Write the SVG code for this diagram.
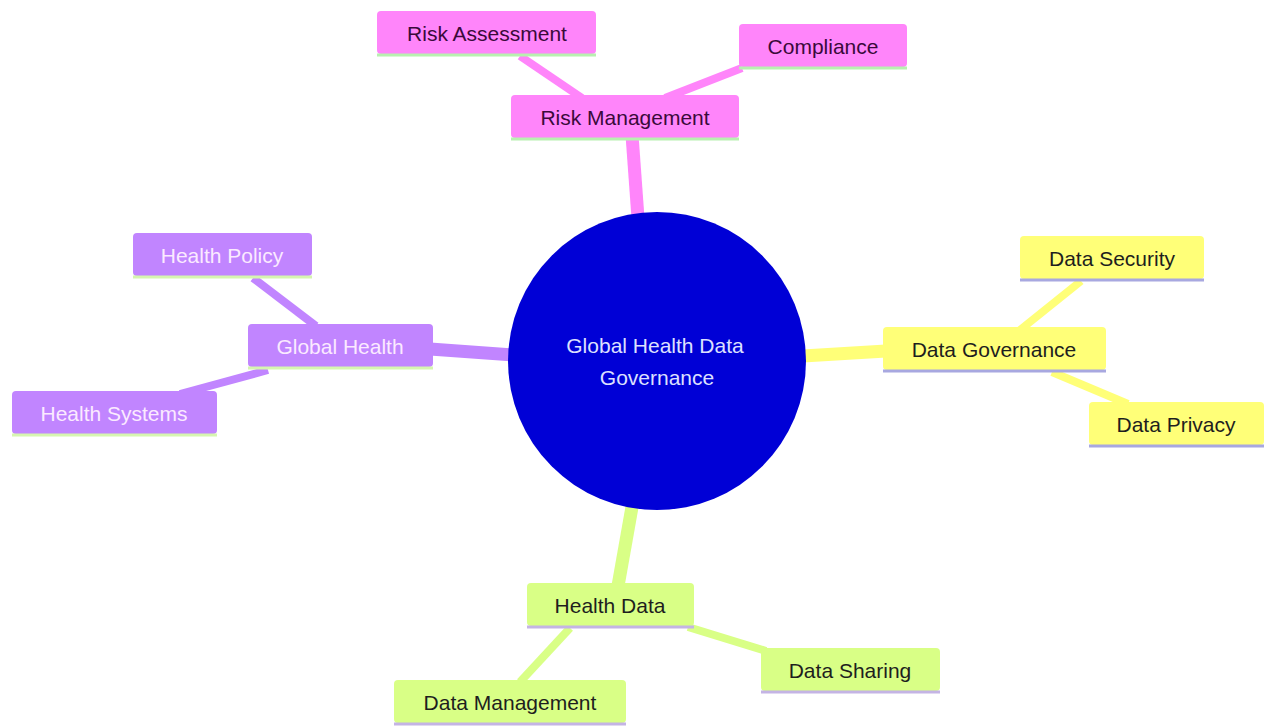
<svg xmlns="http://www.w3.org/2000/svg" width="1264" height="726" viewBox="0 0 1264 726">
<style>
text{font-family:"Liberation Sans",Arial,sans-serif;font-size:21px;text-anchor:middle;dominant-baseline:central}
.pk rect.b{fill:#ff85fa}.pk line.u{stroke:#b8f0b0}.pk text{fill:#3a0a3a}
.pu rect.b{fill:#c185ff}.pu line.u{stroke:#d6f5b0}.pu text{fill:#fbeaff}
.ye rect.b{fill:#ffff78}.ye line.u{stroke:#a8a8e0}.ye text{fill:#1e1e1e}
.gr rect.b{fill:#d9ff86}.gr line.u{stroke:#c4b4e4}.gr text{fill:#1e1e1e}
line.u{stroke-width:3}
#edges line{stroke-linecap:butt}
</style>
<rect width="1264" height="726" fill="#ffffff"/>
<g id="edges">
<line x1="632" y1="135" x2="638" y2="218" stroke="#ff85fa" stroke-width="13"/>
<line x1="520" y1="56" x2="582" y2="98" stroke="#ff85fa" stroke-width="8"/>
<line x1="742" y1="68" x2="665" y2="98" stroke="#ff85fa" stroke-width="8"/>
<line x1="430" y1="349" x2="512" y2="355" stroke="#c185ff" stroke-width="13"/>
<line x1="253" y1="278" x2="316" y2="326" stroke="#c185ff" stroke-width="8"/>
<line x1="268" y1="370" x2="180" y2="394" stroke="#c185ff" stroke-width="8"/>
<line x1="803" y1="356" x2="886" y2="351" stroke="#ffff78" stroke-width="13"/>
<line x1="1081" y1="281" x2="1020" y2="330" stroke="#ffff78" stroke-width="8"/>
<line x1="1052" y1="372" x2="1128" y2="404" stroke="#ffff78" stroke-width="8"/>
<line x1="632" y1="507" x2="618" y2="586" stroke="#d9ff86" stroke-width="13"/>
<line x1="570" y1="628" x2="520" y2="682" stroke="#d9ff86" stroke-width="8"/>
<line x1="688" y1="627" x2="766" y2="651" stroke="#d9ff86" stroke-width="8"/>
</g>
<g id="root">
<circle cx="657" cy="361" r="149" fill="#0000d6"/>
<text x="655" y="345" fill="#dde0ff">Global Health Data</text>
<text x="657" y="377" fill="#dde0ff">Governance</text>
</g>
<g id="riskManagement" class="pk">
<rect class="b" x="511" y="95" width="228" height="43" rx="4"/><line class="u" x1="511" y1="139" x2="739" y2="139"/>
<text x="625" y="117">Risk Management</text>
</g>
<g id="riskAssessment" class="pk">
<rect class="b" x="377" y="11" width="219" height="43" rx="4"/><line class="u" x1="377" y1="55" x2="596" y2="55"/>
<text x="487" y="33">Risk Assessment</text>
</g>
<g id="compliance" class="pk">
<rect class="b" x="739" y="24" width="168" height="43" rx="4"/><line class="u" x1="739" y1="68" x2="907" y2="68"/>
<text x="823" y="46">Compliance</text>
</g>
<g id="globalHealth" class="pu">
<rect class="b" x="248" y="324" width="185" height="43" rx="4"/><line class="u" x1="248" y1="368" x2="433" y2="368"/>
<text x="340" y="346">Global Health</text>
</g>
<g id="healthPolicy" class="pu">
<rect class="b" x="133" y="233" width="179" height="43" rx="4"/><line class="u" x1="133" y1="277" x2="312" y2="277"/>
<text x="222" y="255">Health Policy</text>
</g>
<g id="healthSystems" class="pu">
<rect class="b" x="12" y="391" width="205" height="43" rx="4"/><line class="u" x1="12" y1="435" x2="217" y2="435"/>
<text x="114" y="413">Health Systems</text>
</g>
<g id="dataGovernance" class="ye">
<rect class="b" x="883" y="327" width="223" height="43" rx="4"/><line class="u" x1="883" y1="371" x2="1106" y2="371"/>
<text x="994" y="349">Data Governance</text>
</g>
<g id="dataSecurity" class="ye">
<rect class="b" x="1020" y="236" width="184" height="43" rx="4"/><line class="u" x1="1020" y1="280" x2="1204" y2="280"/>
<text x="1112" y="258">Data Security</text>
</g>
<g id="dataPrivacy" class="ye">
<rect class="b" x="1089" y="402" width="175" height="43" rx="4"/><line class="u" x1="1089" y1="446" x2="1264" y2="446"/>
<text x="1176" y="424">Data Privacy</text>
</g>
<g id="healthData" class="gr">
<rect class="b" x="527" y="583" width="167" height="43" rx="4"/><line class="u" x1="527" y1="627" x2="694" y2="627"/>
<text x="610" y="605">Health Data</text>
</g>
<g id="dataSharing" class="gr">
<rect class="b" x="761" y="648" width="179" height="43" rx="4"/><line class="u" x1="761" y1="692" x2="940" y2="692"/>
<text x="850" y="670">Data Sharing</text>
</g>
<g id="dataManagement" class="gr">
<rect class="b" x="394" y="680" width="232" height="43" rx="4"/><line class="u" x1="394" y1="724" x2="626" y2="724"/>
<text x="510" y="702">Data Management</text>
</g>
</svg>
